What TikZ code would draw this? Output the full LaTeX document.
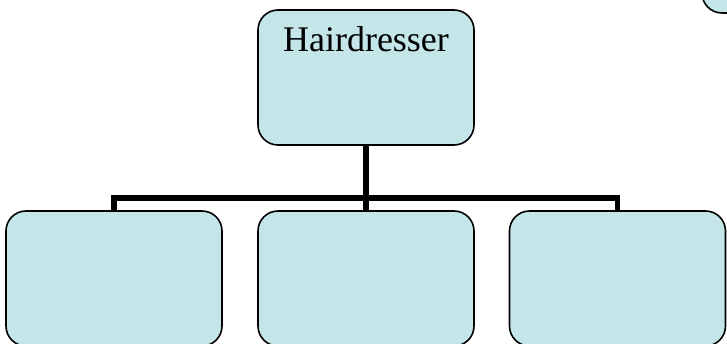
\documentclass[tikz,border=0pt]{standalone}
\usepackage{fontspec}
\setmainfont{Liberation Serif}
\definecolor{boxfill}{RGB}{196,230,232}
\begin{document}
\begin{tikzpicture}[x=1pt,y=-1pt,
  orgbox/.style={draw=black,line width=1.6pt,fill=boxfill,rounded corners=20pt,
    minimum width=216pt,minimum height=135pt,inner sep=0pt,outer sep=0pt},
  conn/.style={draw=black,line width=5.5pt}]
\useasboundingbox (0,0) rectangle (727,344);
\clip (0,0) rectangle (727,344);
\node[orgbox] (top) at (366,77.5) {};
\node[font=\fontsize{36}{40}\selectfont,anchor=base] (toplabel) at (366,52) {Hairdresser};
\node[orgbox] (b1) at (114,278.5) {};
\node[orgbox] (b2) at (366,278.5) {};
\node[orgbox] (b3) at (617.5,278.5) {};
\node[orgbox,anchor=south west] (corner) at (702,13) {};
\coordinate (j) at (366,198);
\draw[conn] (top.south) -- (j);
\draw[conn,line join=miter] (b1.north) |- (j) -| (b3.north);
\draw[conn] (j) -- (b2.north);
\end{tikzpicture}
\end{document}
